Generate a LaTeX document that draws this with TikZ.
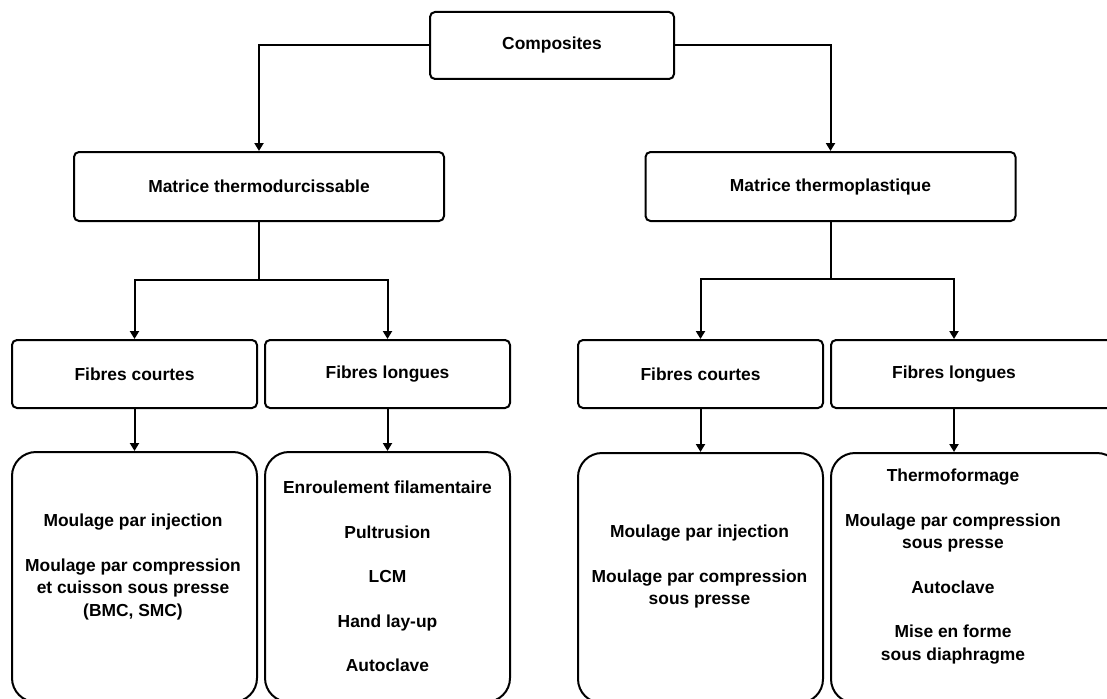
\documentclass[tikz,border=0pt]{standalone}
\usepackage{fontspec}
\setmainfont{Liberation Sans}
\usetikzlibrary{arrows.meta}
\begin{document}
\begin{tikzpicture}[x=1pt,y=-1pt,
  box/.style={draw,line width=2pt,rounded corners=5pt,inner sep=0pt,
    font=\bfseries\fontsize{17.4}{22.3}\selectfont,align=center},
  bigbox/.style={draw,line width=2pt,rounded corners=24pt,inner sep=0pt},
  lbl/.style={font=\bfseries\fontsize{17.4}{22.3}\selectfont,align=center,inner sep=0pt},
  arr/.style={line width=2pt,-{Triangle[width=9pt,length=8pt]}},
  ln/.style={line width=2pt}]
\fill[white] (0,0) rectangle (1107,698);
\useasboundingbox (0,0) rectangle (1107,698);
\clip (0,0) rectangle (1107,698);

% top
\node[box,minimum width=244pt,minimum height=67pt] (comp) at (552,45.5) {Composites};
\node[box,minimum width=370pt,minimum height=69pt] (mt) at (259,186.5) {Matrice thermodurcissable};
\node[box,minimum width=370pt,minimum height=69pt] (mp) at (830.5,186.5) {Matrice thermoplastique};

% fibres
\node[box,minimum width=245pt,minimum height=68pt] (fc1) at (134.5,374) {Fibres courtes};
\node[box,minimum width=245pt,minimum height=68pt] (fl1) at (387.5,374) {Fibres longues};
\node[box,minimum width=245pt,minimum height=68pt] (fc2) at (700.5,374) {Fibres courtes};
\node[box,minimum width=290pt,minimum height=68pt] (fl2) at (976,374) {};
\node[lbl] (fl2t) at (954,374) {Fibres longues};

% lower boxes
\node[bigbox,minimum width=245pt,minimum height=250pt] (lc1) at (134.5,577) {};
\node[bigbox,minimum width=245pt,minimum height=250pt] (ll1) at (387.5,577) {};
\node[bigbox,minimum width=245pt,minimum height=250pt] (lc2) at (700.5,578) {};
\node[bigbox,minimum width=290pt,minimum height=250pt] (ll2) at (976,578) {};

\node[lbl] (t1) at (133,567) {Moulage par injection\\[22.3pt]Moulage par compression\\et cuisson sous presse\\(BMC, SMC)};
\node[lbl] (t2) at (387.5,576.5) {Enroulement filamentaire\\[22.3pt]Pultrusion\\[22.3pt]LCM\\[22.3pt]Hand lay-up\\[22.3pt]Autoclave};
\node[lbl] (t3) at (699.5,566.5) {Moulage par injection\\[22.3pt]Moulage par compression\\sous presse};
\node[lbl] (t4) at (953,566.5) {Thermoformage\\[22.3pt]Moulage par compression\\sous presse\\[22.3pt]Autoclave\\[22.3pt]Mise en forme\\sous diaphragme};

% connectors
\draw[arr] (comp.west) -| (mt.north);
\draw[arr] (comp.east) -| (mp.north);

\coordinate (j1) at ([yshift=-58pt]mt.south);
\coordinate (j2) at ([yshift=-57pt]mp.south);
\draw[ln] (mt.south) -- (j1);
\draw[ln] (mp.south) -- (j2);
\draw[arr] (j1) -| (fc1.north);
\draw[arr] (j1) -| (fl1.north);
\draw[arr] (j2) -| (fc2.north);
\draw[arr] (j2) -| (fl2t |- fl2.north);

\draw[arr] (fc1.south) -- (lc1.north);
\draw[arr] (fl1.south) -- (ll1.north);
\draw[arr] (fc2.south) -- (lc2.north);
\draw[arr] (fl2t |- fl2.south) -- (fl2t |- ll2.north);
\end{tikzpicture}
\end{document}
